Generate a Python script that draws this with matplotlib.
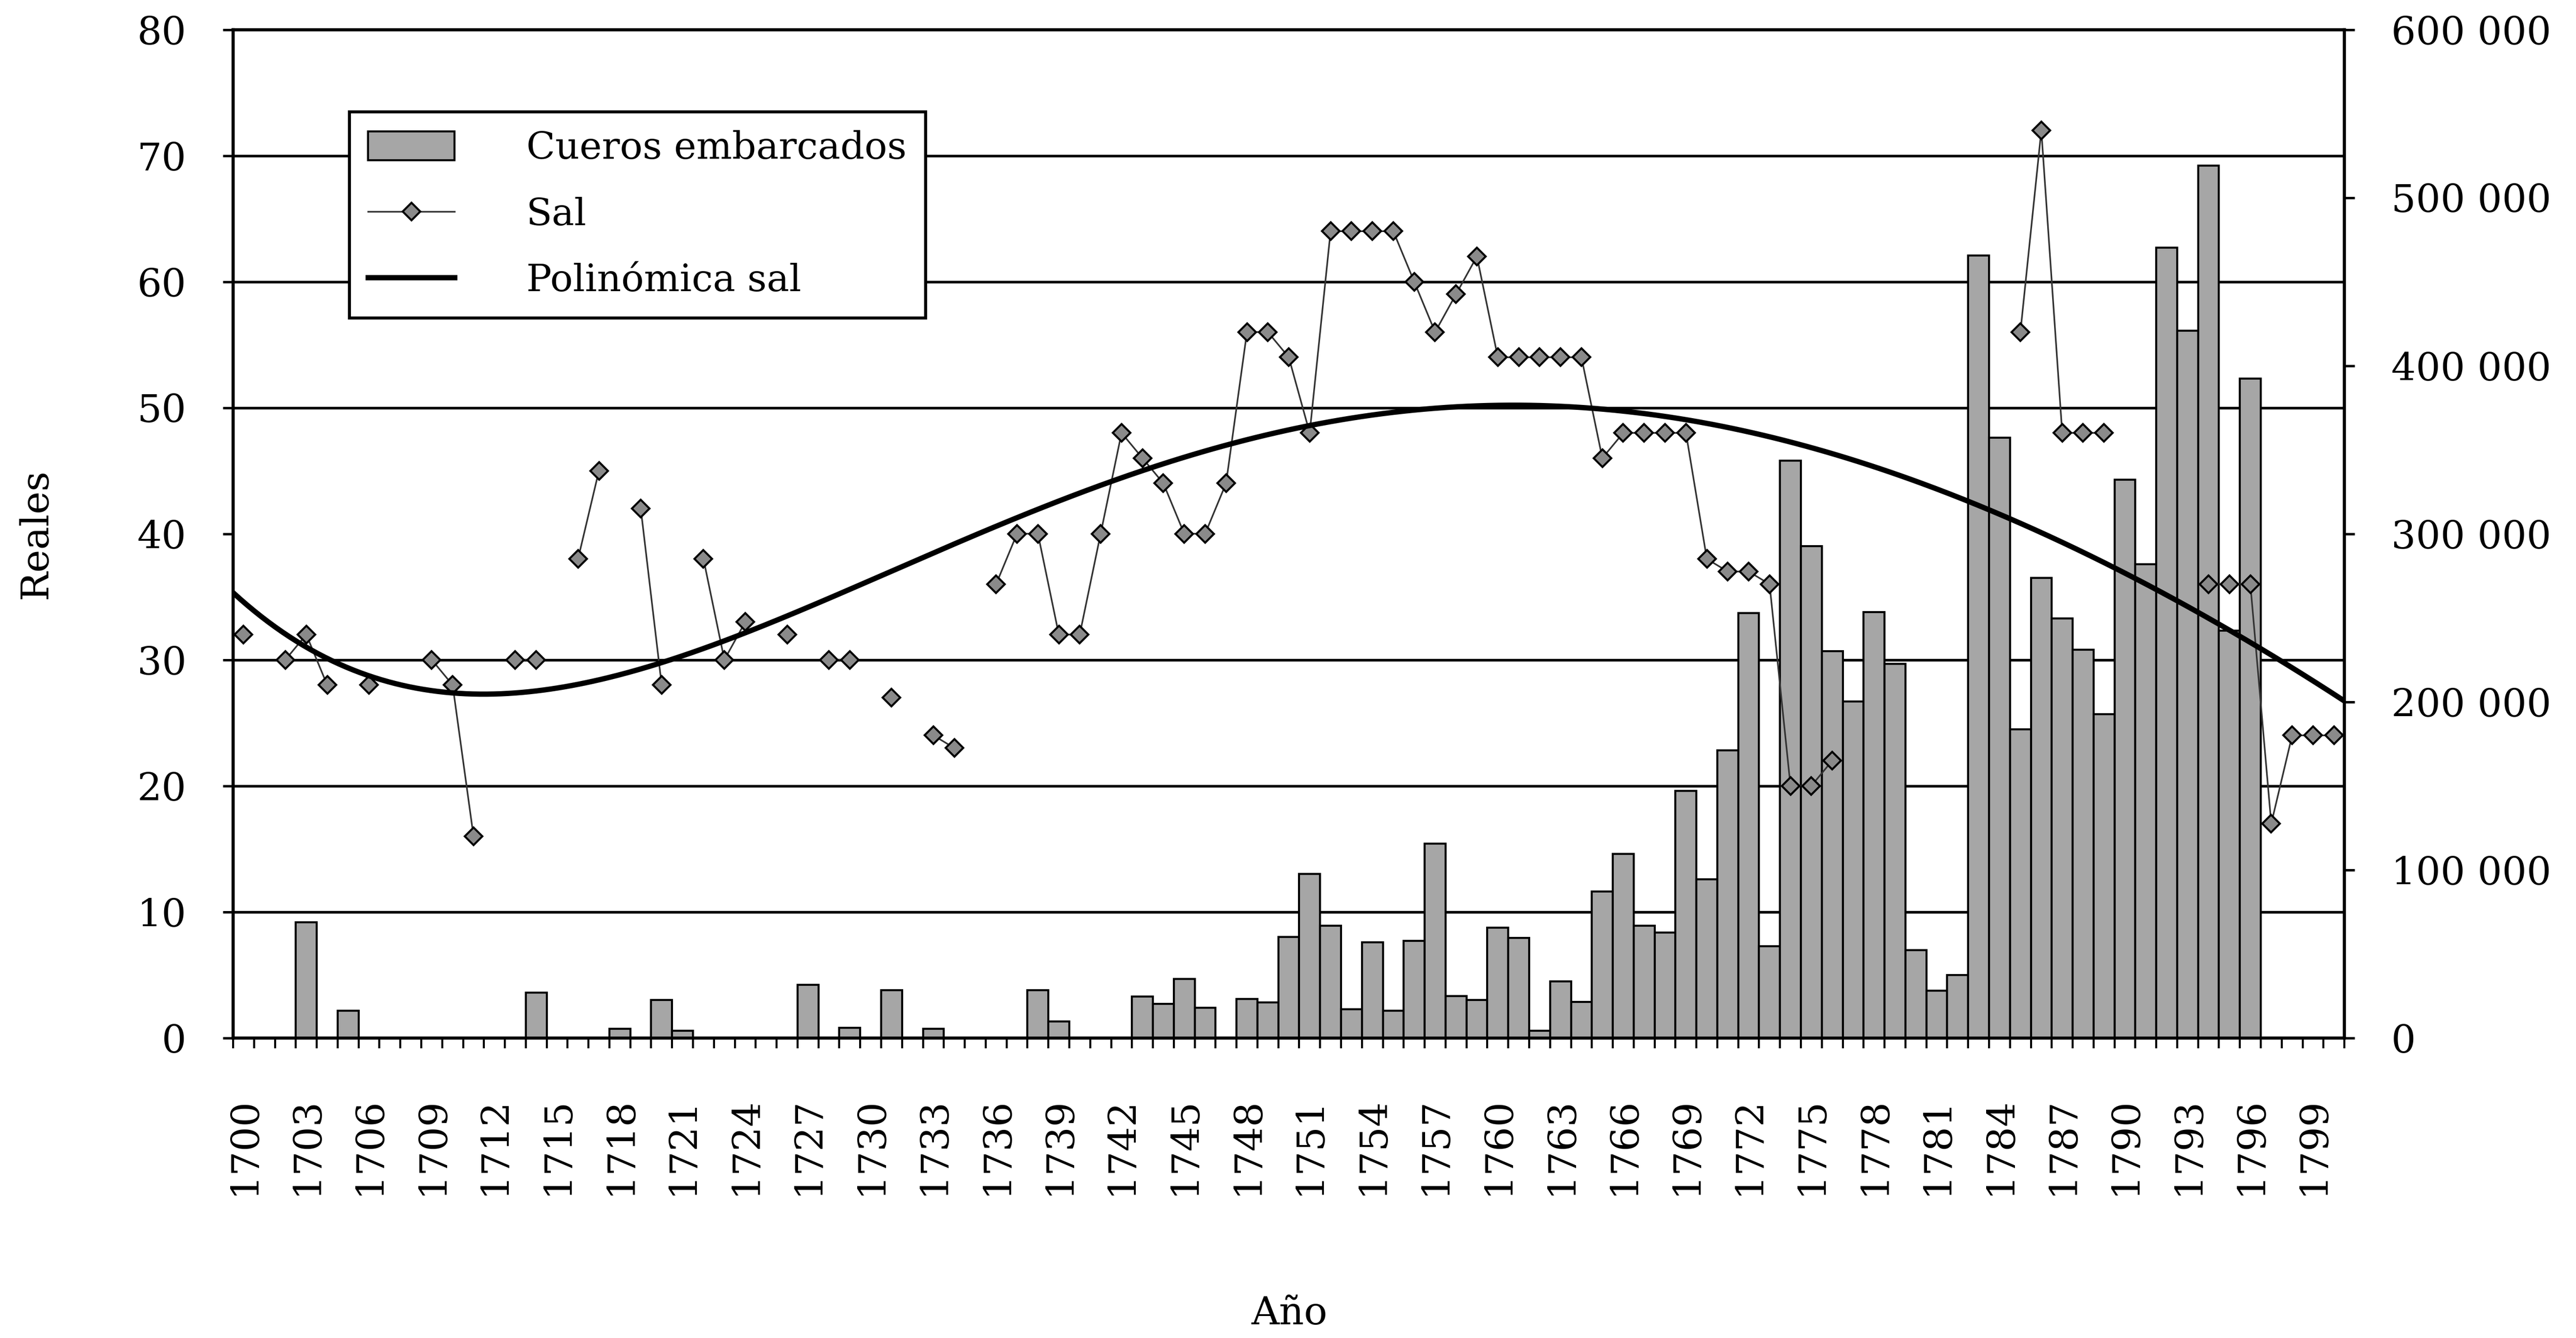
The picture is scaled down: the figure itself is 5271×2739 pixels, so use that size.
import numpy as np
import matplotlib
matplotlib.use("Agg")
import matplotlib.pyplot as plt
from matplotlib.ticker import FixedLocator, FuncFormatter, MultipleLocator
from matplotlib.patches import Patch
from matplotlib.lines import Line2D

plt.rcParams['font.family'] = ['DejaVu Serif']

N = np.nan

years = list(range(1700, 1801))

# cueros embarcados (right axis), one row per decade
cueros = [
    0, 0, 0, 68700, 0, 16200, 0, 0, 0, 0,
    0, 0, 0, 0, 26800, 0, 0, 0, 5300, 0,
    22600, 4400, 0, 0, 0, 0, 0, 31500, 0, 6100,
    0, 28500, 0, 5300, 0, 0, 0, 0, 28500, 9800,
    0, 0, 0, 24700, 20200, 35200, 18000, 0, 23200, 21000,
    60000, 97500, 66700, 17000, 57000, 16200, 57700, 115500, 25000, 22600,
    65700, 59500, 4400, 33500, 21300, 87000, 109500, 66700, 62600, 147000,
    94500, 171000, 252700, 54500, 343500, 292500, 230200, 200200, 253500, 222700,
    52200, 28000, 37500, 465700, 357000, 183700, 273700, 249700, 231000, 192700,
    332200, 282000, 470200, 420700, 519000, 242200, 392200, 0, 0, 0,
    0,
]

# precio de la sal en reales (left axis), NaN = sin dato
sal = [
    32, N, 30, 32, 28, N, 28, N, N, 30,
    28, 16, N, 30, 30, N, 38, 45, N, 42,
    28, N, 38, 30, 33, N, 32, N, 30, 30,
    N, 27, N, 24, 23, N, 36, 40, 40, 32,
    32, 40, 48, 46, 44, 40, 40, 44, 56, 56,
    54, 48, 64, 64, 64, 64, 60, 56, 59, 62,
    54, 54, 54, 54, 54, 46, 48, 48, 48, 48,
    38, 37, 37, 36, 20, 20, 22, N, N, N,
    N, N, N, N, N, 56, 72, 48, 48, 48,
    N, N, N, N, 36, 36, 36, 17, 24, 24,
    24,
]

tick_years = list(range(1700, 1800, 3))
poly_order = 5

x = np.arange(len(years))
sal = np.array(sal, dtype=float)
ok = ~np.isnan(sal)
trend = np.polynomial.Polynomial.fit(x[ok], sal[ok], poly_order)
xt = np.linspace(-0.5, len(years) - 0.5, 600)

fig = plt.figure(figsize=(5271 / 300, 2739 / 300), dpi=300)
ax2 = fig.add_axes([0.0905, 0.2243, 0.8196, 0.7536])  # bars, right scale
ax = ax2.twinx()  # sal, left scale
ax.yaxis.tick_left()
ax.yaxis.set_label_position('left')
ax2.yaxis.tick_right()
ax.set_zorder(ax2.get_zorder() + 1)
ax.patch.set_visible(False)

bar_col = '#a6a6a6'
ax2.bar(x, cueros, width=1.0, color=bar_col, edgecolor='black', linewidth=1.0, zorder=3)
ax2.set_ylim(0, 600000)
ax2.set_xlim(-0.5, len(years) - 0.5)
ax2.yaxis.set_major_locator(MultipleLocator(100000))
ax2.yaxis.set_minor_locator(MultipleLocator(75000))
ax2.yaxis.set_major_formatter(FuncFormatter(lambda v, p: f"{int(v):,}".replace(",", " ")))
ax2.grid(which='minor', axis='y', color='black', linewidth=1.3, zorder=0)
ax2.set_axisbelow(True)
ax2.tick_params(axis='y', which='major', direction='out', length=5, width=1.2,
                pad=18, labelsize=19)
ax2.tick_params(axis='y', which='minor', length=0)

ax.plot(x, sal, color='#333333', linewidth=0.8, marker='D', markersize=6,
        markerfacecolor='#8a8a8a', markeredgecolor='black', markeredgewidth=1.0, zorder=4)
ax.plot(xt, trend(xt), color='black', linewidth=2.6, zorder=5)
ax.set_ylim(0, 80)
ax.yaxis.set_major_locator(MultipleLocator(10))
ax.tick_params(axis='y', direction='out', length=5, width=1.2, pad=18, labelsize=19)

# x axis: ticks between categories, labels every 3 years
ax2.xaxis.set_major_locator(FixedLocator([years.index(y) for y in tick_years]))
ax2.set_xticklabels([str(y) for y in tick_years], rotation=90, fontsize=19)
ax2.xaxis.set_minor_locator(FixedLocator(np.arange(-0.5, len(years), 1.0)))
ax2.tick_params(axis='x', which='major', length=0, pad=29)
ax2.tick_params(axis='x', which='minor', direction='out', length=5, width=1.0)
ax.tick_params(axis='x', which='both', bottom=False, labelbottom=False)

for a in (ax, ax2):
    for s in a.spines.values():
        s.set_linewidth(1.5)
        s.set_color('black')

fig.text(0.0140, 0.601, 'Reales', rotation=90, ha='center', va='center', fontsize=19)
fig.text(0.5006, 0.0184, 'Año', ha='center', va='center', fontsize=19)

handles = [
    Patch(facecolor=bar_col, edgecolor='black', linewidth=1.0),
    Line2D([], [], color='#333333', linewidth=0.8, marker='D', markersize=6,
           markerfacecolor='#8a8a8a', markeredgecolor='black'),
    Line2D([], [], color='black', linewidth=2.6),
]
leg = ax.legend(handles, ['Cueros embarcados', 'Sal', 'Polinómica sal'],
                loc='upper left', bbox_to_anchor=(0.055, 0.9186), fontsize=18.5,
                frameon=True, fancybox=False, framealpha=1, edgecolor='black',
                handlelength=2.3, handleheight=0.8, handletextpad=1.9,
                labelspacing=0.8, borderpad=0.5, borderaxespad=0)
leg.get_frame().set_linewidth(1.5)

fig.savefig('out.png', dpi=300)
